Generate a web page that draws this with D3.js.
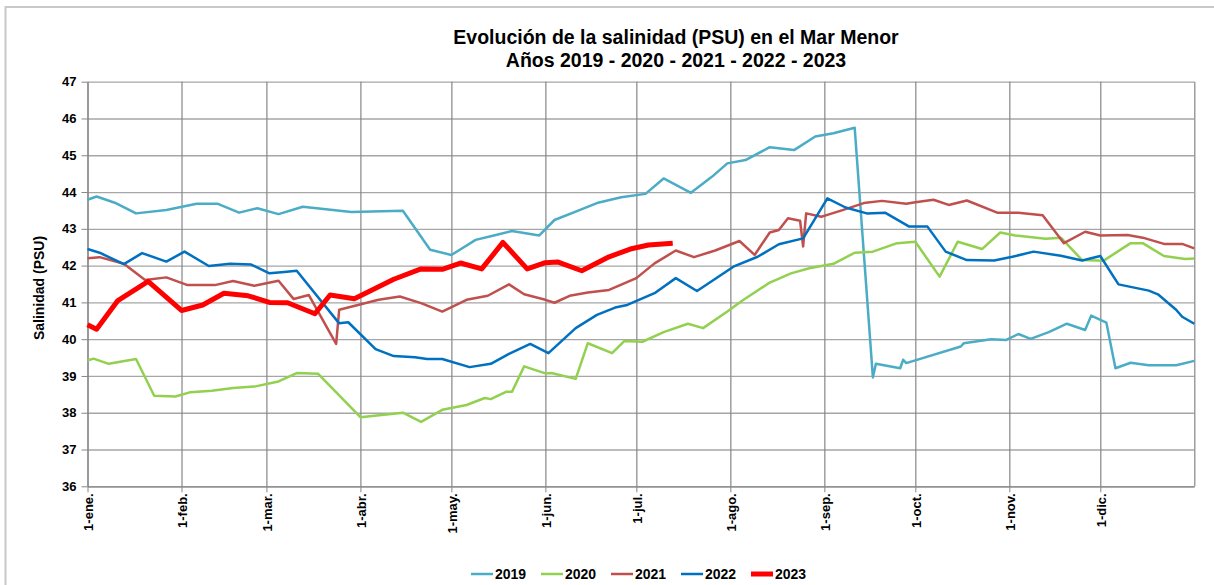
<!DOCTYPE html>
<html>
<head>
<meta charset="utf-8">
<script src="https://cdn.jsdelivr.net/npm/d3@7"></script>
<style>
  body { margin: 0; background: #fff; }
  text { font-family: "Liberation Sans", Arial, sans-serif; font-weight: bold; fill: #000; }
</style>
</head>
<body>
<script>
// salinidad del Mar Menor, dias desde el 1 de enero
var days2019 = [0,3,9,16,26,36,43,50,56,63,71,87,104,113,120,128,134,140,149,154,161,168,176,184,190,199,206,211,217,225,233,240,246,253,259,260,268,269,270,288,289,298,303,307,311,317,323,329,331,336,339,344,350,359,365];
var sal2019 = [43.79,43.88,43.71,43.42,43.51,43.68,43.68,43.44,43.56,43.40,43.60,43.46,43.49,42.43,42.29,42.70,42.82,42.94,42.82,43.24,43.47,43.70,43.86,43.95,44.37,43.98,44.42,44.78,44.87,45.22,45.14,45.51,45.60,45.75,38.96,39.33,39.21,39.44,39.35,39.80,39.89,40.00,39.98,40.14,40.01,40.19,40.42,40.25,40.64,40.45,39.21,39.36,39.29,39.29,39.41];

var days2020 = [0,2,7,16,22,29,34,41,48,55,63,69,76,90,104,110,117,125,131,133,138,140,144,151,153,161,165,173,177,183,190,198,203,211,216,225,232,238,246,253,259,267,273,281,287,295,301,306,316,321,328,335,344,348,355,362,365];
var sal2020 = [39.42,39.47,39.33,39.46,38.46,38.44,38.56,38.60,38.67,38.71,38.85,39.08,39.06,37.88,38.00,37.75,38.08,38.21,38.40,38.37,38.57,38.57,39.26,39.07,39.08,38.92,39.89,39.62,39.95,39.93,40.19,40.42,40.30,40.75,41.05,41.54,41.79,41.93,42.05,42.35,42.38,42.61,42.65,41.70,42.65,42.45,42.90,42.82,42.73,42.76,42.15,42.13,42.61,42.61,42.26,42.18,42.19];

var days2021 = [0,4,12,19,26,33,42,48,55,63,68,73,82,83,96,103,110,117,125,132,139,144,151,154,159,165,172,181,187,194,200,207,215,220,225,228,231,235,236,237,242,244,249,256,262,270,273,279,284,290,300,307,315,322,329,334,343,348,355,361,365];
var sal2021 = [42.20,42.23,42.05,41.61,41.68,41.47,41.47,41.58,41.45,41.59,41.09,41.20,39.87,40.80,41.07,41.16,40.98,40.75,41.07,41.18,41.49,41.22,41.07,40.99,41.18,41.27,41.34,41.66,42.06,42.41,42.23,42.41,42.67,42.29,42.90,42.97,43.29,43.22,42.52,43.42,43.33,43.38,43.51,43.70,43.76,43.68,43.72,43.79,43.65,43.77,43.44,43.44,43.37,42.61,42.92,42.82,42.83,42.76,42.59,42.59,42.47];

var days2022 = [0,4,12,18,26,32,40,47,54,60,64,69,83,86,95,101,108,112,117,126,133,139,146,152,161,168,174,178,187,194,201,213,221,228,236,244,250,257,263,271,277,283,290,299,305,312,321,328,334,340,350,353,359,361,365];
var sal2022 = [42.45,42.35,42.04,42.34,42.11,42.38,41.99,42.05,42.03,41.79,41.82,41.86,40.43,40.46,39.73,39.54,39.51,39.46,39.46,39.24,39.33,39.60,39.87,39.62,40.30,40.66,40.86,40.93,41.25,41.66,41.31,41.97,42.24,42.58,42.74,43.83,43.58,43.42,43.44,43.06,43.06,42.38,42.15,42.14,42.24,42.38,42.27,42.14,42.26,41.49,41.32,41.22,40.80,40.61,40.42];

var days2023 = [0,3,10,20,31,38,45,53,60,66,75,80,88,101,110,117,123,130,137,145,151,155,163,172,179,185,193];
var sal2023 = [40.39,40.27,41.05,41.57,40.78,40.93,41.25,41.18,41.00,40.99,40.69,41.20,41.10,41.63,41.91,41.90,42.07,41.91,42.63,41.91,42.08,42.10,41.86,42.24,42.45,42.56,42.61];

var years = ["2019","2020","2021","2022","2023"];
var colors = ["#4bacc6","#92d050","#c0504d","#0070c0","#ff0000"];
var monthNames = ["ene.","feb.","mar.","abr.","may.","jun.","jul.","ago.","sep.","oct.","nov.","dic."];
var yTicks = [36,37,38,39,40,41,42,43,44,45,46,47];

var width = 1214, height = 585;
var plotLeft = 87.5, plotRight = 1194.3, plotTop = 81.7, plotBottom = 486.3;

var svg = d3.select("body").append("svg")
    .attr("width", width)
    .attr("height", height);

// marco del grafico
svg.append("rect")
    .attr("x", 5.5).attr("y", 7)
    .attr("width", 1300).attr("height", 700)
    .attr("fill", "none")
    .attr("stroke", "#c8c8c8")
    .attr("stroke-width", 2);

var base = new Date(2019, 0, 1);
function toDate(d) { return d3.timeDay.offset(base, d); }

var x = d3.scaleTime()
    .domain([base, new Date(2020, 0, 1)])
    .range([plotLeft, plotRight]);
var y = d3.scaleLinear()
    .domain([36, 47])
    .range([plotBottom, plotTop]);

// rejilla horizontal
svg.append("g")
    .attr("transform", "translate(" + plotLeft + ",0)")
    .call(d3.axisLeft(y).tickValues(yTicks).tickSize(-(plotRight - plotLeft)).tickFormat(""))
    .call(g => g.select(".domain").remove())
    .call(g => g.selectAll("line").attr("stroke", "#a6a6a6").attr("stroke-width", 1.3));

// rejilla vertical (meses)
var monthTicks = d3.timeMonth.range(base, new Date(2020, 0, 2));
svg.append("g")
    .attr("transform", "translate(0," + plotBottom + ")")
    .call(d3.axisBottom(x).tickValues(monthTicks).tickSize(-(plotBottom - plotTop)).tickFormat(""))
    .call(g => g.select(".domain").remove())
    .call(g => g.selectAll("line").attr("stroke", "#868686").attr("stroke-width", 1.2));

// eje y
var yAxis = svg.append("g")
    .attr("transform", "translate(" + plotLeft + ",0)")
    .call(d3.axisLeft(y).tickValues(yTicks).tickSize(6).tickPadding(5).tickSizeOuter(0));
yAxis.select(".domain").attr("stroke", "#868686").attr("stroke-width", 1.2);
yAxis.selectAll("line").attr("stroke", "#868686");
yAxis.selectAll("text").style("font-size", "13px").attr("fill", "#000");

// eje x
var xAxis = svg.append("g")
    .attr("transform", "translate(0," + plotBottom + ")")
    .call(d3.axisBottom(x).tickValues(monthTicks.slice(0, 12)).tickSize(6).tickSizeOuter(0)
        .tickFormat(d => "1-" + monthNames[d.getMonth()]));
xAxis.select(".domain").attr("stroke", "#868686").attr("stroke-width", 1.2);
xAxis.selectAll("line").attr("stroke", "#868686");
xAxis.selectAll("text")
    .style("font-size", "13px")
    .attr("fill", "#000")
    .attr("transform", "rotate(-90)")
    .attr("text-anchor", "end")
    .attr("x", -7)
    .attr("y", 0)
    .attr("dy", "0.4em");

// series
var series = [
    [days2019, sal2019],
    [days2020, sal2020],
    [days2021, sal2021],
    [days2022, sal2022],
    [days2023, sal2023]
];
var line = d3.line()
    .x(d => x(toDate(d[0])))
    .y(d => y(d[1]));

series.forEach(function(s, i) {
    var pts = s[0].map((d, j) => [d, s[1][j]]);
    svg.append("path")
        .datum(pts)
        .attr("fill", "none")
        .attr("stroke", colors[i])
        .attr("stroke-width", i == 4 ? 5 : 2.5)
        .attr("stroke-linejoin", "round")
        .attr("d", line);
});

// titulo
svg.append("text")
    .attr("x", 676).attr("y", 44)
    .attr("text-anchor", "middle")
    .style("font-size", "19.5px")
    .text("Evolución de la salinidad (PSU) en el Mar Menor");
svg.append("text")
    .attr("x", 676).attr("y", 67)
    .attr("text-anchor", "middle")
    .style("font-size", "19.5px")
    .text("Años 2019 - 2020 - 2021 - 2022 - 2023");

// titulo eje y
svg.append("text")
    .attr("transform", "translate(44,288) rotate(-90)")
    .attr("text-anchor", "middle")
    .style("font-size", "14px")
    .text("Salinidad (PSU)");

// leyenda
var legend = svg.append("g");
years.forEach(function(yr, i) {
    var lx = 471 + i * 70;
    legend.append("line")
        .attr("x1", lx).attr("x2", lx + 22)
        .attr("y1", 574).attr("y2", 574)
        .attr("stroke", colors[i])
        .attr("stroke-width", i == 4 ? 5 : 2.5);
    legend.append("text")
        .attr("x", lx + 24).attr("y", 579)
        .style("font-size", "14px")
        .text(yr);
});
</script>
</body>
</html>
